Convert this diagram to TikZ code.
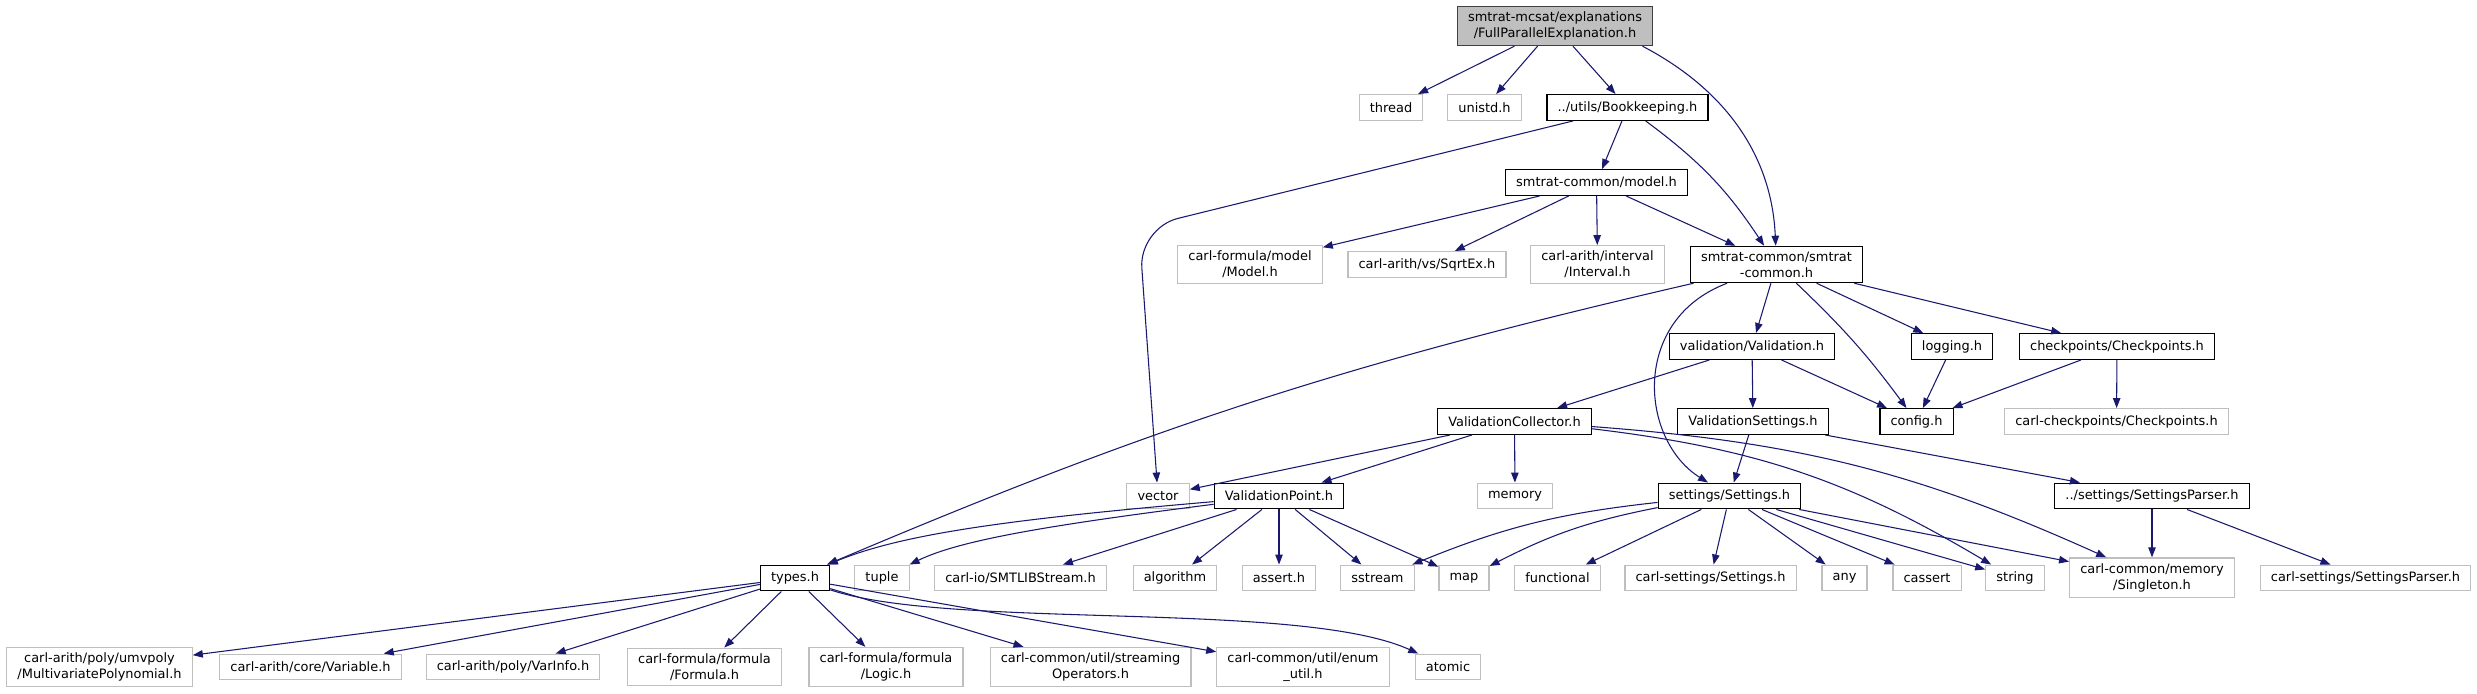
\documentclass[tikz,border=0pt]{standalone}
\usepackage{fontspec}
\setmainfont{DejaVu Sans}
\usetikzlibrary{arrows.meta}

\definecolor{edgeblue}{HTML}{191970}
\definecolor{boxgrey}{HTML}{BFBFBF}

\tikzset{
  file/.style={draw, line width=0.9pt, inner xsep=8pt, inner ysep=4pt, minimum height=19.3pt, align=center, font=\fontsize{9.7}{12}\selectfont},
  docfile/.style={file, draw=black},
  extfile/.style={file, draw=boxgrey},
  rootfile/.style={file, draw=black!75, fill=boxgrey},
  incl/.style={-{Triangle[length=7.5pt,width=5.6pt]}, draw=edgeblue, line width=0.8pt},
}

\begin{document}
\begin{tikzpicture}[x=0.75pt, y=-0.75pt]
    \path[fill=white, use as bounding box] (0,0) rectangle (2477,693);

    % top levels
    \node[rootfile] (root) at (1555,26) {smtrat-mcsat/explanations\\/FullParallelExplanation.h};
    \node[extfile] (thread) at (1391,107.5) {thread};
    \node[extfile] (unistd) at (1484.5,107.5) {unistd.h};
    \node[docfile] (bookkeeping) at (1627.5,107.5) {../utils/Bookkeeping.h};
    \node[docfile] (model) at (1596.5,182.5) {smtrat-common/model.h};
    \node[extfile] (cfmodel) at (1250,264.5) {carl-formula/model\\/Model.h};
    \node[extfile] (sqrtex) at (1427,264.5) {carl-arith/vs/SqrtEx.h};
    \node[extfile] (interval) at (1597.5,264.5) {carl-arith/interval\\/Interval.h};
    \node[docfile] (smtratcommon) at (1776.5,264.5) {smtrat-common/smtrat\\-common.h};

    % validation, logging, checkpoints
    \node[docfile] (validation) at (1752,346.5) {validation/Validation.h};
    \node[docfile] (logging) at (1952,346.5) {logging.h};
    \node[docfile] (checkpoints) at (2117,346.5) {checkpoints/Checkpoints.h};
    \node[docfile] (collector) at (1514.5,421.5) {ValidationCollector.h};
    \node[docfile] (valsettings) at (1753,421.5) {ValidationSettings.h};
    \node[docfile] (config) at (1916.5,421.5) {config.h};
    \node[extfile] (carlcheckpoints) at (2116.5,421.5) {carl-checkpoints/Checkpoints.h};

    \node[extfile] (vector) at (1158,496) {vector};
    \node[docfile] (valpoint) at (1279,496) {ValidationPoint.h};
    \node[extfile] (memory) at (1515,496) {memory};
    \node[docfile] (settings) at (1729.5,496) {settings/Settings.h};
    \node[docfile] (settingsparser) at (2152,496) {../settings/SettingsParser.h};

    % second to last row
    \node[docfile] (types) at (795,578) {types.h};
    \node[extfile] (tuple) at (882,578) {tuple};
    \node[extfile] (smtlib) at (1020.5,578) {carl-io/SMTLIBStream.h};
    \node[extfile] (algorithm) at (1175,578) {algorithm};
    \node[extfile] (asserth) at (1279,578) {assert.h};
    \node[extfile] (sstream) at (1377.5,578) {sstream};
    \node[extfile] (map) at (1464,578) {map};
    \node[extfile] (functional) at (1557.5,578) {functional};
    \node[extfile] (carlsettings) at (1710.5,578) {carl-settings/Settings.h};
    \node[extfile] (any) at (1844.5,578) {any};
    \node[extfile] (cassert) at (1927,578) {cassert};
    \node[extfile] (string) at (2015,578) {string};
    \node[extfile] (singleton) at (2152,577.5) {carl-common/memory\\/Singleton.h};
    \node[extfile] (carlsettingsparser) at (2365.5,578) {carl-settings/SettingsParser.h};

    % bottom row
    \node[extfile] (multivar) at (99.5,667) {carl-arith/poly/umvpoly\\/MultivariatePolynomial.h};
    \node[extfile] (variable) at (310.5,667) {carl-arith/core/Variable.h};
    \node[extfile] (varinfo) at (513,667) {carl-arith/poly/VarInfo.h};
    \node[extfile] (formula) at (704.5,667) {carl-formula/formula\\/Formula.h};
    \node[extfile] (logic) at (886,667) {carl-formula/formula\\/Logic.h};
    \node[extfile] (streaming) at (1090.5,667) {carl-common/util/streaming\\Operators.h};
    \node[extfile] (enumutil) at (1303,667) {carl-common/util/enum\\\_util.h};
    \node[extfile] (atomic) at (1448,667) {atomic};

    % includes
    \draw[incl] (root) -- (thread);
    \draw[incl] (root) -- (unistd);
    \draw[incl] (root) -- (bookkeeping);
    \draw[incl] (root.-13) .. controls (1730,92) and (1772,160) .. (smtratcommon);
    \draw[incl, rounded corners=30pt] (bookkeeping) -- (1139,228) -- (vector);
    \draw[incl] (bookkeeping) -- (model);
    \draw[incl] (bookkeeping) to[bend left=10] (smtratcommon);
    \draw[incl] (model) -- (cfmodel);
    \draw[incl] (model) -- (sqrtex);
    \draw[incl] (model) -- (interval);
    \draw[incl] (model) -- (smtratcommon);

    \draw[incl] (smtratcommon) to[bend right=5] (types);
    \draw[incl] (smtratcommon) .. controls (1630,320) and (1640,440) .. (settings);
    \draw[incl] (smtratcommon) -- (validation);
    \draw[incl] (smtratcommon) to[bend left=5] (config);
    \draw[incl] (smtratcommon) -- (logging);
    \draw[incl] (smtratcommon) -- (checkpoints);

    \draw[incl] (validation) -- (collector);
    \draw[incl] (validation) -- (valsettings);
    \draw[incl] (validation) -- (config);
    \draw[incl] (logging) -- (config);
    \draw[incl] (checkpoints) -- (config);
    \draw[incl] (checkpoints) -- (carlcheckpoints);

    \draw[incl] (collector) -- (vector);
    \draw[incl] (collector) -- (valpoint);
    \draw[incl] (collector) -- (memory);
    \draw[incl] (collector) to[bend left=12] (string);
    \draw[incl] (collector) to[bend left=10] (singleton);
    \draw[incl] (valsettings) -- (settings);
    \draw[incl] (valsettings) -- (settingsparser);

    \draw[incl] (valpoint) .. controls (1000,520) and (900,535) .. (types);
    \draw[incl] (valpoint) .. controls (1050,525) and (960,540) .. (tuple);
    \draw[incl] (valpoint) -- (smtlib);
    \draw[incl] (valpoint) -- (algorithm);
    \draw[incl] (valpoint) -- (asserth);
    \draw[incl] (valpoint) -- (sstream);
    \draw[incl] (valpoint) -- (map);

    \draw[incl] (settings) to[bend right=8] (sstream);
    \draw[incl] (settings) to[bend right=8] (map);
    \draw[incl] (settings) -- (functional);
    \draw[incl] (settings) -- (carlsettings);
    \draw[incl] (settings) -- (any);
    \draw[incl] (settings) -- (cassert);
    \draw[incl] (settings) -- (string);
    \draw[incl] (settings) -- (singleton);
    \draw[incl] (settingsparser) -- (singleton);
    \draw[incl] (settingsparser) -- (carlsettingsparser);

    \draw[incl] (types) -- (multivar);
    \draw[incl] (types) -- (variable);
    \draw[incl] (types) -- (varinfo);
    \draw[incl] (types) -- (formula);
    \draw[incl] (types) -- (logic);
    \draw[incl] (types) -- (streaming);
    \draw[incl] (types) -- (enumutil);
    \draw[incl] (types) .. controls (950,630) and (1300,600) .. (atomic);
\end{tikzpicture}
\end{document}
